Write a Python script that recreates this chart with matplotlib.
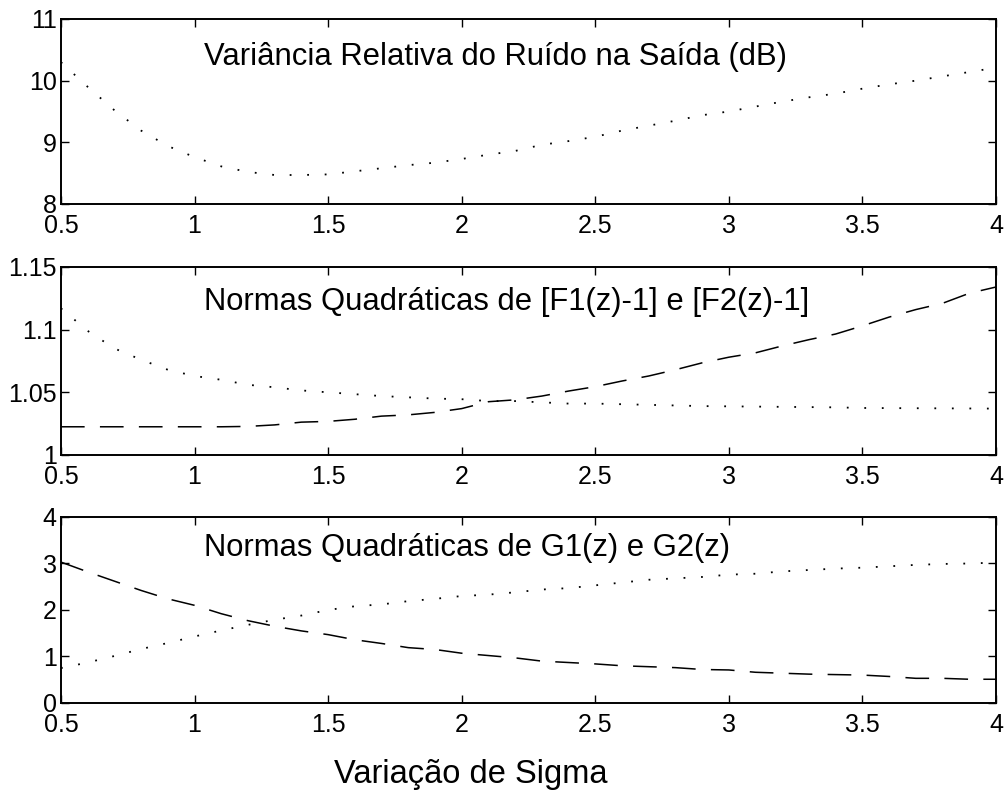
import matplotlib
matplotlib.use("Agg")
import matplotlib.pyplot as plt

plt.rcParams['font.family'] = ['Liberation Sans', 'DejaVu Sans']

# valores de sigma
sigma = [0.5, 0.6, 0.7, 0.8, 0.9, 1.0, 1.1, 1.2, 1.3, 1.4, 1.5, 1.6,
         1.7, 1.8, 1.9, 2.0, 2.1, 2.2, 2.3, 2.4, 2.5, 2.6, 2.7, 2.8,
         2.9, 3.0, 3.1, 3.2, 3.3, 3.4, 3.5, 3.6, 3.7, 3.8, 3.9, 4.0]

# variancia relativa do ruido (dB)
var_ruido = [10.30, 9.90, 9.52, 9.19, 8.94, 8.76, 8.61, 8.52, 8.47, 8.47,
             8.48, 8.53, 8.58, 8.63, 8.67, 8.73, 8.80, 8.86, 8.96, 9.02,
             9.09, 9.19, 9.27, 9.35, 9.44, 9.50, 9.58, 9.66, 9.73, 9.79,
             9.87, 9.94, 10.00, 10.07, 10.14, 10.21]

# normas quadraticas de [F1(z)-1] e [F2(z)-1]
norma_f1 = [1.117, 1.099, 1.085, 1.076, 1.068, 1.063, 1.060, 1.056, 1.054,
            1.0515, 1.050, 1.0485, 1.047, 1.046, 1.045, 1.0445, 1.043,
            1.043, 1.042, 1.041, 1.041, 1.0405, 1.040, 1.0395, 1.039,
            1.0388, 1.0386, 1.0384, 1.0382, 1.038, 1.0375, 1.0374, 1.0373,
            1.0372, 1.0371, 1.037]
norma_f2 = [1.0225, 1.0225, 1.0225, 1.0225, 1.0225, 1.0225, 1.0225, 1.0228,
            1.0240, 1.0262, 1.0268, 1.0285, 1.0310, 1.0320, 1.0340, 1.0370,
            1.0425, 1.0440, 1.0470, 1.0510, 1.0545, 1.0590, 1.0630, 1.0680,
            1.0735, 1.0780, 1.0815, 1.0870, 1.0920, 1.0965, 1.1030, 1.1100,
            1.1160, 1.1210, 1.1290, 1.1340]

# normas quadraticas de G1(z) e G2(z)
norma_g1 = [0.75, 0.87, 1.01, 1.16, 1.29, 1.43, 1.56, 1.68, 1.79, 1.88,
            2.00, 2.08, 2.12, 2.19, 2.24, 2.30, 2.33, 2.38, 2.44, 2.47,
            2.53, 2.59, 2.65, 2.68, 2.71, 2.76, 2.78, 2.83, 2.86, 2.89,
            2.91, 2.94, 2.97, 2.99, 3.00, 3.02]
norma_g2 = [3.03, 2.82, 2.62, 2.42, 2.24, 2.10, 1.92, 1.77, 1.65, 1.55,
            1.47, 1.36, 1.28, 1.19, 1.15, 1.07, 1.02, 0.97, 0.90, 0.87,
            0.84, 0.80, 0.78, 0.76, 0.72, 0.71, 0.66, 0.64, 0.62, 0.61,
            0.60, 0.57, 0.53, 0.53, 0.51, 0.51]

xticks = [0.5, 1, 1.5, 2, 2.5, 3, 3.5, 4]
xticklabels = ['0.5', '1', '1.5', '2', '2.5', '3', '3.5', '4']

pontilhado = dict(color='black', lw=1.3, linestyle=(0, (1, 8.7)),
                  dash_capstyle='butt')
tracejado = dict(color='black', lw=1.1, linestyle=(0, (15.5, 10)))

fig = plt.figure(figsize=(10.06, 7.91), dpi=100)
ax1 = fig.add_axes([0.0606, 0.7421, 0.9294, 0.2339])
ax2 = fig.add_axes([0.0606, 0.4248, 0.9294, 0.2377])
ax3 = fig.add_axes([0.0606, 0.1113, 0.9294, 0.2351])

ax1.plot(sigma, var_ruido, **pontilhado)
ax1.set_ylim(8, 11)
ax1.set_yticks([8, 9, 10, 11])
ax1.set_yticklabels(['8', '9', '10', '11'])
ax1.text(0.153, 0.751, 'Variância Relativa do Ruído na Saída (dB)',
         transform=ax1.transAxes, fontsize=22.3, va='baseline')

ax2.plot(sigma, norma_f1, **pontilhado)
ax2.plot(sigma, norma_f2, **tracejado)
ax2.set_ylim(1, 1.15)
ax2.set_yticks([1, 1.05, 1.1, 1.15])
ax2.set_yticklabels(['1', '1.05', '1.1', '1.15'])
ax2.text(0.153, 0.771, 'Normas Quadráticas de [F1(z)-1] e [F2(z)-1]',
         transform=ax2.transAxes, fontsize=22.3, va='baseline')

ax3.plot(sigma, norma_g1, **pontilhado)
ax3.plot(sigma, norma_g2, **tracejado)
ax3.set_ylim(0, 4)
ax3.set_yticks([0, 1, 2, 3, 4])
ax3.set_yticklabels(['0', '1', '2', '3', '4'])
ax3.text(0.153, 0.79, 'Normas Quadráticas de G1(z) e G2(z)',
         transform=ax3.transAxes, fontsize=22.3, va='baseline')

for ax in (ax1, ax2, ax3):
    ax.set_xlim(0.5, 4)
    ax.set_xticks(xticks)
    ax.set_xticklabels(xticklabels)
    ax.tick_params(direction='in', length=6, width=1, top=True, right=True,
                   labelsize=18)
    ax.tick_params(axis='x', pad=7)
    ax.tick_params(axis='y', pad=3)
    for s in ax.spines.values():
        s.set_linewidth(1.4)

fig.text(471 / 1006, 8 / 791, 'Variação de Sigma', fontsize=23.5,
         ha='center', va='baseline')

fig.savefig('out.png', dpi=100)
